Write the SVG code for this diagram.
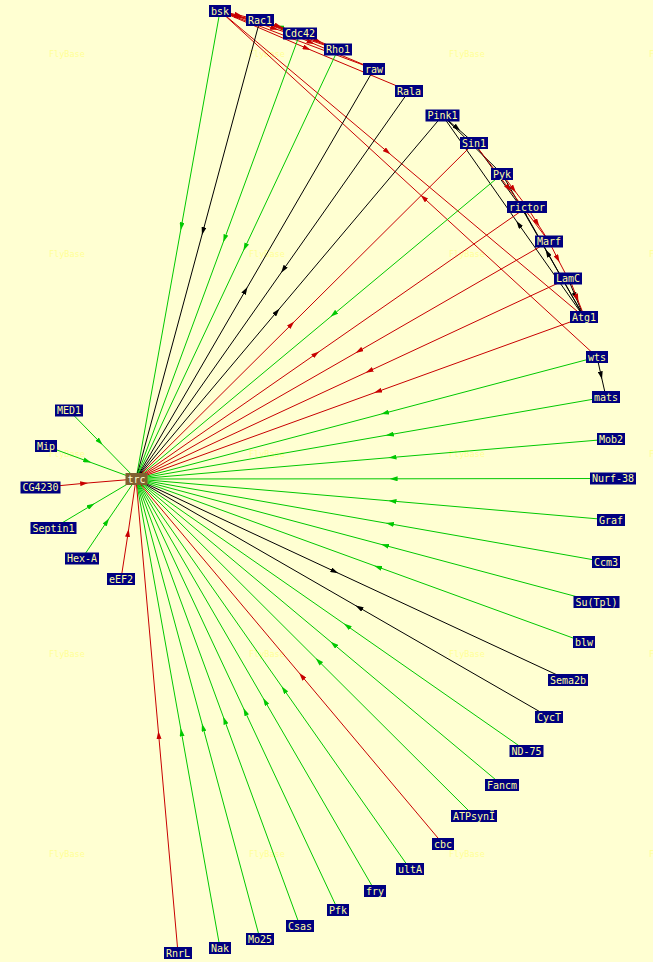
<svg xmlns="http://www.w3.org/2000/svg" width="653" height="962" viewBox="0 0 653 962">
<defs>
<style>
.e{fill:none;stroke-width:1}
.g{stroke:#00c800;marker-mid:url(#ag)}
.r{stroke:#c80000;marker-mid:url(#ar)}
.k{stroke:#000000;marker-mid:url(#ak)}
.n rect{fill:#000080}
.n text{fill:#ffffa0;font-family:"DejaVu Sans Mono","Liberation Mono",monospace;font-size:10px;text-anchor:middle}
.c rect{fill:#806030}
.c text{fill:#ffffd0;font-family:"DejaVu Sans Mono","Liberation Mono",monospace;font-size:10px;text-anchor:middle}
.wm{fill:#ffff96;font-family:"DejaVu Sans Mono","Liberation Mono",monospace;font-size:8.5px}
</style>
<marker id="ag" viewBox="0 0 8 5" refX="4" refY="2.5" markerWidth="8" markerHeight="5" markerUnits="userSpaceOnUse" orient="auto"><path d="M0,0L8,2.5L0,5z" fill="#00c800"/></marker>
<marker id="ar" viewBox="0 0 8 5" refX="4" refY="2.5" markerWidth="8" markerHeight="5" markerUnits="userSpaceOnUse" orient="auto"><path d="M0,0L8,2.5L0,5z" fill="#c80000"/></marker>
<marker id="ak" viewBox="0 0 8 5" refX="4" refY="2.5" markerWidth="8" markerHeight="5" markerUnits="userSpaceOnUse" orient="auto"><path d="M0,0L8,2.5L0,5z" fill="#000000"/></marker>
</defs>
<rect width="653" height="962" fill="#ffffd2"/>
<g id="watermarks">
<text class="wm" x="49" y="57">FlyBase</text><text class="wm" x="249" y="57">FlyBase</text><text class="wm" x="449" y="57">FlyBase</text><text class="wm" x="649" y="57">FlyBase</text>
<text class="wm" x="49" y="257">FlyBase</text><text class="wm" x="249" y="257">FlyBase</text><text class="wm" x="449" y="257">FlyBase</text><text class="wm" x="649" y="257">FlyBase</text>
<text class="wm" x="49" y="457">FlyBase</text><text class="wm" x="249" y="457">FlyBase</text><text class="wm" x="449" y="457">FlyBase</text><text class="wm" x="649" y="457">FlyBase</text>
<text class="wm" x="49" y="657">FlyBase</text><text class="wm" x="249" y="657">FlyBase</text><text class="wm" x="449" y="657">FlyBase</text><text class="wm" x="649" y="657">FlyBase</text>
<text class="wm" x="49" y="857">FlyBase</text><text class="wm" x="249" y="857">FlyBase</text><text class="wm" x="449" y="857">FlyBase</text><text class="wm" x="649" y="857">FlyBase</text>
</g>
<g id="connectors">
<!-- top cluster -->
<polyline class="e g" points="300,33.5 280,26.8 260,20"/>
<polyline class="e r" points="220,11 238.4,15.1 260,20"/>
<polyline class="e r" points="220,12.5 238.4,16.6 260,21.5"/>
<polyline class="e r" points="220,11 256.8,21.1 300,33.5"/>
<polyline class="e r" points="220,11 274.3,28.5 338,49.5"/>
<polyline class="e r" points="260,20 278.4,26.2 300,33.5"/>
<polyline class="e r" points="260,20 295.9,33.5 338,49.5"/>
<polyline class="e r" points="300,33.5 317.5,40.6 338,49.5"/>
<polyline class="e r" points="220,11 290.8,38 374,69"/>
<polyline class="e r" points="260,20 310.8,42.5 374,69"/>
<polyline class="e r" points="220,11 306.9,48.4 409,91"/>
<polyline class="e r" points="220,11 387.4,151.8 584,317"/>
<polyline class="e r" points="597,357 423.6,197.8 220,11"/>
<!-- Pink1 cluster -->
<polyline class="e k" points="442.5,115.5 457.2,128.2 474,143"/>
<polyline class="e k" points="442.5,115.5 469.9,142.5 502,174"/>
<polyline class="e k" points="584,317 518.7,224.3 442.5,115.5"/>
<polyline class="e k" points="474,143 524.6,212.1 584,317"/>
<polyline class="e k" points="584,317 547.5,253 502,174"/>
<polyline class="e k" points="568,278.5 575.4,296.3 584,317"/>
<polyline class="e r" points="474,143 508.5,188.1 549,241.5"/>
<polyline class="e r" points="502,174 513.5,189.2 527,207"/>
<polyline class="e r" points="527,207 537.1,222.9 549,241.5"/>
<polyline class="e r" points="549,241.5 557.7,258.8 568,278.5"/>
<polyline class="e r" points="570,280 577,298 585,318"/>
<polyline class="e k" points="597,357 601.1,375.4 606,397"/>
<!-- to trc, top -->
<polyline class="e g" points="220,11 181.4,226.3 136,479"/>
<polyline class="e k" points="260,20 203,231.1 136,479"/>
<polyline class="e g" points="300,33.5 224.6,238.5 136,479"/>
<polyline class="e g" points="338,49.5 245.1,247.1 136,479"/>
<polyline class="e k" points="136,479 245.5,290.4 374,69"/>
<polyline class="e k" points="409,91 283.4,269.5 136,479"/>
<polyline class="e k" points="136,479 276.8,311.8 442.5,115.5"/>
<polyline class="e r" points="136,479 291.5,324.4 474,143"/>
<polyline class="e g" points="502,174 333.6,314.3 136,479"/>
<polyline class="e r" points="136,479 315.9,353.9 527,207"/>
<polyline class="e r" points="549,241.5 359,351 136,479"/>
<polyline class="e r" points="568,278.5 369.3,371 136,479"/>
<polyline class="e r" points="584,317 377.9,391.5 136,479"/>
<!-- to trc, right -->
<polyline class="e g" points="597,357 384.9,413.1 136,479"/>
<polyline class="e g" points="606,397 389.8,434.7 136,479"/>
<polyline class="e g" points="611,439 392.5,457.4 136,479"/>
<polyline class="e g" points="613,478.5 393.6,478.8 136,479"/>
<polyline class="e g" points="611,520 392.5,501.1 136,479"/>
<polyline class="e g" points="606,562 389.8,523.8 136,479"/>
<polyline class="e g" points="596.5,602 384.9,545.4 136,479"/>
<polyline class="e g" points="584,642 377.9,567 136,479"/>
<polyline class="e k" points="136,479 334.7,571.5 568,680"/>
<polyline class="e k" points="549,717 359,607.5 136,479"/>
<polyline class="e g" points="526.5,751 347.1,625.9 136,479"/>
<polyline class="e g" points="502,785 333.6,644.2 136,479"/>
<polyline class="e g" points="474,816 318.5,661 136,479"/>
<polyline class="e r" points="443,844 301.8,676.1 136,479"/>
<polyline class="e g" points="410,869 283.9,689.6 136,479"/>
<polyline class="e g" points="375,891 265.1,701.5 136,479"/>
<polyline class="e g" points="338,910 245.1,711.7 136,479"/>
<polyline class="e g" points="300,926 224.6,720.4 136,479"/>
<polyline class="e g" points="260,939 203,727.4 136,479"/>
<polyline class="e g" points="220,948 181.4,732.3 136,479"/>
<polyline class="e r" points="178,953 158.7,735 136,479"/>
<!-- to trc, left -->
<polyline class="e g" points="69,410.5 99.8,442 136,479"/>
<polyline class="e g" points="46,446 87.4,461.2 136,479"/>
<polyline class="e r" points="40.5,487.5 84.2,483.3 136,479"/>
<polyline class="e g" points="53.5,528 91.2,505.5 136,479"/>
<polyline class="e g" points="82,558.5 106.8,521.7 136,479"/>
<polyline class="e r" points="121,579 128.1,533 136,479"/>
</g>
<g id="n-bsk" class="n"><rect x="209" y="5" width="22" height="12"/><text x="220" y="14.5">bsk</text></g>
<g id="n-Rac1" class="n"><rect x="246" y="14" width="28" height="12"/><text x="260" y="23.5">Rac1</text></g>
<g id="n-Cdc42" class="n"><rect x="283" y="27.5" width="34" height="12"/><text x="300" y="37">Cdc42</text></g>
<g id="n-Rho1" class="n"><rect x="324" y="43.5" width="28" height="12"/><text x="338" y="53">Rho1</text></g>
<g id="n-raw" class="n"><rect x="363" y="63" width="22" height="12"/><text x="374" y="72.5">raw</text></g>
<g id="n-Rala" class="n"><rect x="395" y="85" width="28" height="12"/><text x="409" y="94.5">Rala</text></g>
<g id="n-Pink1" class="n"><rect x="425.5" y="109.5" width="34" height="12"/><text x="442.5" y="119">Pink1</text></g>
<g id="n-Sin1" class="n"><rect x="460" y="137" width="28" height="12"/><text x="474" y="146.5">Sin1</text></g>
<g id="n-Pyk" class="n"><rect x="491" y="168" width="22" height="12"/><text x="502" y="177.5">Pyk</text></g>
<g id="n-rictor" class="n"><rect x="507" y="201" width="40" height="12"/><text x="527" y="210.5">rictor</text></g>
<g id="n-Marf" class="n"><rect x="535" y="235.5" width="28" height="12"/><text x="549" y="245">Marf</text></g>
<g id="n-LamC" class="n"><rect x="554" y="272.5" width="28" height="12"/><text x="568" y="282">LamC</text></g>
<g id="n-Atg1" class="n"><rect x="570" y="311" width="28" height="12"/><text x="584" y="320.5">Atg1</text></g>
<g id="n-wts" class="n"><rect x="586" y="351" width="22" height="12"/><text x="597" y="360.5">wts</text></g>
<g id="n-mats" class="n"><rect x="592" y="391" width="28" height="12"/><text x="606" y="400.5">mats</text></g>
<g id="n-Mob2" class="n"><rect x="597" y="433" width="28" height="12"/><text x="611" y="442.5">Mob2</text></g>
<g id="n-Nurf-38" class="n"><rect x="590" y="472.5" width="46" height="12"/><text x="613" y="482">Nurf-38</text></g>
<g id="n-Graf" class="n"><rect x="597" y="514" width="28" height="12"/><text x="611" y="523.5">Graf</text></g>
<g id="n-Ccm3" class="n"><rect x="592" y="556" width="28" height="12"/><text x="606" y="565.5">Ccm3</text></g>
<g id="n-SuTpl" class="n"><rect x="573.5" y="596" width="46" height="12"/><text x="596.5" y="605.5">Su(Tpl)</text></g>
<g id="n-blw" class="n"><rect x="573" y="636" width="22" height="12"/><text x="584" y="645.5">blw</text></g>
<g id="n-Sema2b" class="n"><rect x="548" y="674" width="40" height="12"/><text x="568" y="683.5">Sema2b</text></g>
<g id="n-CycT" class="n"><rect x="535" y="711" width="28" height="12"/><text x="549" y="720.5">CycT</text></g>
<g id="n-ND-75" class="n"><rect x="509.5" y="745" width="34" height="12"/><text x="526.5" y="754.5">ND-75</text></g>
<g id="n-Fancm" class="n"><rect x="485" y="779" width="34" height="12"/><text x="502" y="788.5">Fancm</text></g>
<g id="n-ATPsyn" class="n"><rect x="451" y="810" width="46" height="12"/><text x="474" y="819.5">ATPsynÏ</text></g>
<g id="n-cbc" class="n"><rect x="432" y="838" width="22" height="12"/><text x="443" y="847.5">cbc</text></g>
<g id="n-ultA" class="n"><rect x="396" y="863" width="28" height="12"/><text x="410" y="872.5">ultA</text></g>
<g id="n-fry" class="n"><rect x="364" y="885" width="22" height="12"/><text x="375" y="894.5">fry</text></g>
<g id="n-Pfk" class="n"><rect x="327" y="904" width="22" height="12"/><text x="338" y="913.5">Pfk</text></g>
<g id="n-Csas" class="n"><rect x="286" y="920" width="28" height="12"/><text x="300" y="929.5">Csas</text></g>
<g id="n-Mo25" class="n"><rect x="246" y="933" width="28" height="12"/><text x="260" y="942.5">Mo25</text></g>
<g id="n-Nak" class="n"><rect x="209" y="942" width="22" height="12"/><text x="220" y="951.5">Nak</text></g>
<g id="n-RnrL" class="n"><rect x="164" y="947" width="28" height="12"/><text x="178" y="956.5">RnrL</text></g>
<g id="n-MED1" class="n"><rect x="55" y="404.5" width="28" height="12"/><text x="69" y="414">MED1</text></g>
<g id="n-Mip" class="n"><rect x="35" y="440" width="22" height="12"/><text x="46" y="449.5">Mip</text></g>
<g id="n-CG4230" class="n"><rect x="20.5" y="481.5" width="40" height="12"/><text x="40.5" y="491">CG4230</text></g>
<g id="n-Septin1" class="n"><rect x="30.5" y="522" width="46" height="12"/><text x="53.5" y="531.5">Septin1</text></g>
<g id="n-Hex-A" class="n"><rect x="65" y="552.5" width="34" height="12"/><text x="82" y="562">Hex-A</text></g>
<g id="n-eEF2" class="n"><rect x="107" y="573" width="28" height="12"/><text x="121" y="582.5">eEF2</text></g>
<g id="n-trc" class="c"><rect x="125.5" y="473" width="22" height="12"/><text x="136.5" y="482.5">trc</text></g>
</svg>
